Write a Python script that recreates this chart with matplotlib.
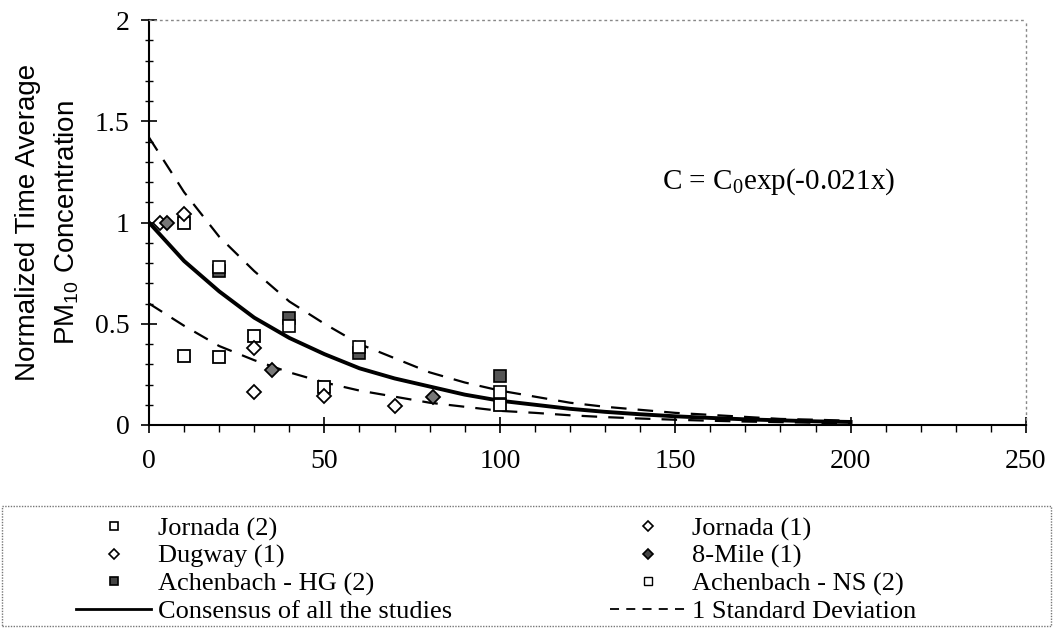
import matplotlib
matplotlib.use("Agg")
import matplotlib.pyplot as plt
from matplotlib.lines import Line2D
from matplotlib.patches import Rectangle

plt.rcParams['font.family'] = 'Liberation Serif'
plt.rcParams['mathtext.fontset'] = 'custom'
plt.rcParams['mathtext.rm'] = 'Liberation Serif'
plt.rcParams['mathtext.sf'] = 'Liberation Sans'

jornada2_x = [10, 10, 20, 30, 50, 100]
jornada2_y = [1.00, 0.34, 0.335, 0.44, 0.19, 0.10]
jornada1_x = [3, 10]
jornada1_y = [1.00, 1.04]
dugway_x = [30, 30, 50, 70]
dugway_y = [0.38, 0.165, 0.145, 0.095]
mile8_x = [5, 35, 81]
mile8_y = [1.00, 0.27, 0.14]
hg_x = [20, 40, 60, 100]
hg_y = [0.76, 0.53, 0.355, 0.24]
ns_x = [20, 40, 60, 100]
ns_y = [0.78, 0.49, 0.385, 0.165]

# curves read every 10 units of distance
curve_x = [0, 10, 20, 30, 40, 50, 60, 70, 80, 90, 100, 110, 120, 130, 140,
           150, 160, 170, 180, 190, 200]
consensus = [1.00, 0.81, 0.66, 0.53, 0.43, 0.35, 0.28, 0.23, 0.19, 0.15, 0.12,
             0.10, 0.08, 0.065, 0.053, 0.043, 0.035, 0.028, 0.023, 0.018, 0.015]
upper_sd = [1.42, 1.15, 0.93, 0.76, 0.61, 0.50, 0.40, 0.33, 0.26, 0.21, 0.17,
            0.14, 0.11, 0.09, 0.075, 0.06, 0.05, 0.04, 0.03, 0.026, 0.021]
lower_sd = [0.60, 0.49, 0.39, 0.32, 0.26, 0.21, 0.17, 0.14, 0.11, 0.09, 0.07,
            0.06, 0.048, 0.039, 0.032, 0.026, 0.021, 0.017, 0.014, 0.011, 0.009]

fig = plt.figure(figsize=(10.54, 6.29), dpi=100)
ax = fig.add_axes([149/1054, 1-425/629, 877/1054, 405/629])

dash = (0, (7, 5))
ax.plot(curve_x, upper_sd, color='black', lw=1.6, linestyle=dash)
ax.plot(curve_x, lower_sd, color='black', lw=1.6, linestyle=dash)
ax.plot(curve_x, consensus, color='black', lw=2.8)

ms = 8
ax.plot(hg_x, hg_y, 's', ms=ms, mfc='#555555', mec='black', mew=1.2)
ax.plot(ns_x, ns_y, 's', ms=ms, mfc='white', mec='black', mew=1.2, linestyle='none')
ax.plot(jornada2_x, jornada2_y, 's', ms=ms, mfc='white', mec='black', mew=1.3)
ax.plot(jornada1_x, jornada1_y, 'D', ms=7, mfc='white', mec='black', mew=1.3)
ax.plot(dugway_x, dugway_y, 'D', ms=7, mfc='white', mec='black', mew=1.3)
ax.plot(mile8_x, mile8_y, 'D', ms=7, mfc='#777777', mec='black', mew=1.3)

ax.set_xlim(0, 250)
ax.set_ylim(0, 2)
ax.set_xticks([0, 50, 100, 150, 200, 250])
ax.set_xticks(range(0, 251, 10), minor=True)
ax.set_yticks([0, 0.5, 1, 1.5, 2])
ax.set_yticklabels(['0', '0.5', '1', '1.5', '2'])
ax.set_yticks([i / 10 for i in range(21)], minor=True)
ax.tick_params(axis='both', which='major', labelsize=20, direction='inout',
               length=12, width=1.2, pad=8)
ax.tick_params(axis='x', which='minor', direction='out', length=5, width=1)
ax.tick_params(axis='y', which='minor', direction='inout', length=6, width=1)
ax.tick_params(axis='x', which='major', pad=11)

for s in ['top', 'right']:
    ax.spines[s].set_linestyle((0, (1, 3)))
    ax.spines[s].set_color('#888888')
    ax.spines[s].set_linewidth(1)
for s in ['left', 'bottom']:
    ax.spines[s].set_linewidth(1.5)

ax.set_ylabel('Normalized Time Average\nPM$_{\\mathsf{10}}$ Concentration',
              family='Liberation Sans', fontsize=20, labelpad=10, linespacing=1.5)

ax.text(662/1054, 1-182/629, 'C = C$_{\\mathrm{0}}$exp(-0.021x)',
        transform=fig.transFigure, fontsize=21, va='center', ha='left')

# legend frame spanning full width
fig.patches.append(Rectangle((2/1054, 1-626/629), 1049/1054, 120/629,
                             transform=fig.transFigure, fill=False,
                             edgecolor='#777777', linestyle=(0, (1, 1)), lw=1))

h_j2 = Line2D([], [], marker='s', ms=6, mfc='white', mec='black', mew=1.2, ls='none')
h_j1 = Line2D([], [], marker='D', ms=5.5, mfc='white', mec='black', mew=1.2, ls='none')
h_dg = Line2D([], [], marker='D', ms=5.5, mfc='white', mec='black', mew=1.2, ls='none')
h_8m = Line2D([], [], marker='D', ms=5.5, mfc='#444444', mec='black', mew=1.2, ls='none')
h_hg = Line2D([], [], marker='s', ms=6, mfc='#444444', mec='black', mew=1.2, ls='none')
h_ns = Line2D([], [], marker='s', ms=5.5, mfc='white', mec='black', mew=1.0, ls='none')
h_con = Line2D([], [], color='black', lw=2)
h_sd = Line2D([], [], color='black', lw=1.3, linestyle=(0, (5, 4)))

leg_kw = dict(frameon=False, fontsize=19, handlelength=2.85, handletextpad=0.25,
              labelspacing=0.14, borderpad=0, borderaxespad=0, loc='upper left')
leg1 = fig.legend([h_j2, h_dg, h_hg, h_con],
                  ['Jornada (2)', 'Dugway (1)', 'Achenbach - HG (2)',
                   'Consensus of all the studies'],
                  bbox_to_anchor=(76/1054, 1-517/629), **leg_kw)
leg2 = fig.legend([h_j1, h_8m, h_ns, h_sd],
                  ['Jornada (1)', '8-Mile (1)', 'Achenbach - NS (2)',
                   '1 Standard Deviation'],
                  bbox_to_anchor=(610/1054, 1-517/629), **leg_kw)

fig.savefig('out.png', dpi=100)
